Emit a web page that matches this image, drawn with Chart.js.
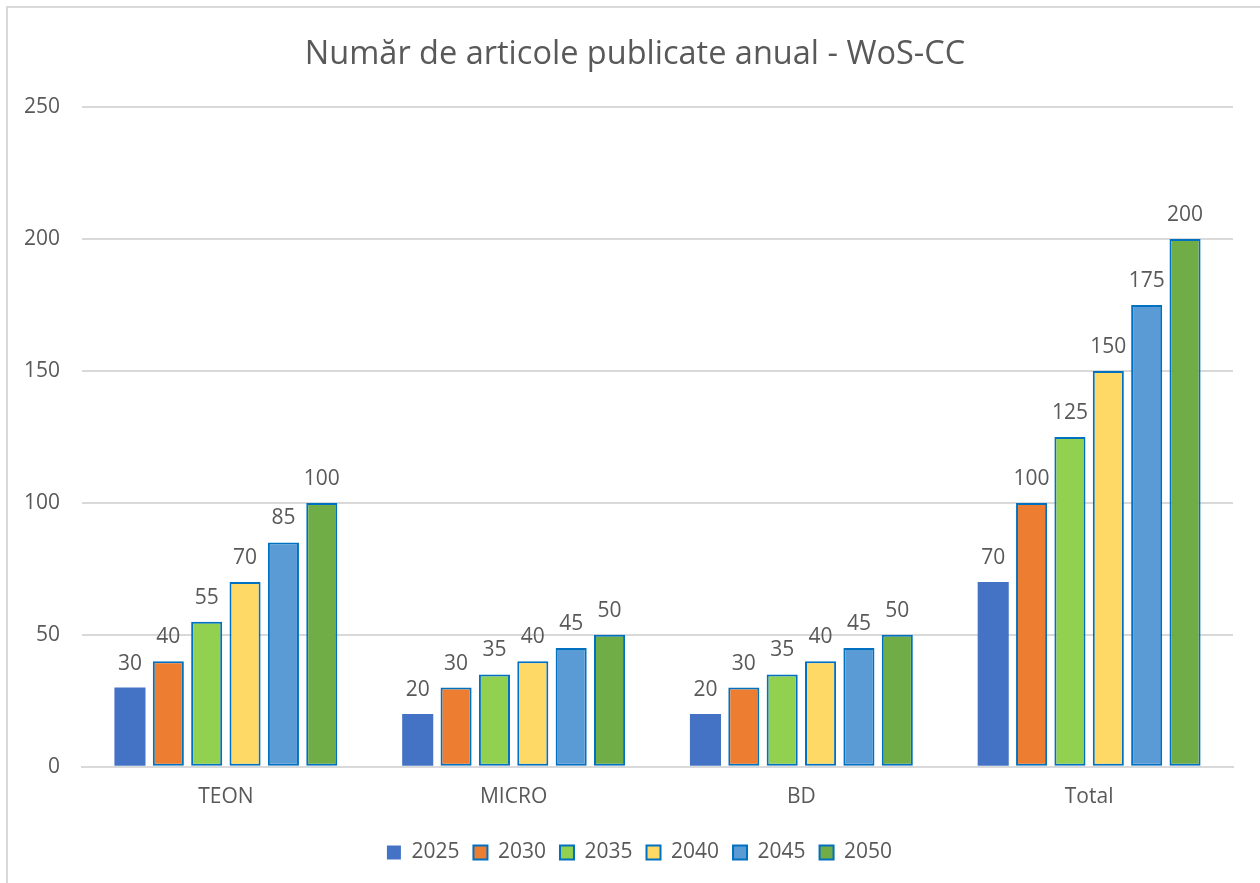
<!DOCTYPE html>
<html>
<head>
<meta charset="utf-8">
<script src="https://cdn.jsdelivr.net/npm/chart.js@4.4.1/dist/chart.umd.min.js"></script>
<style>
  html, body { margin: 0; padding: 0; background: #fff; overflow: hidden; }
  #wrap { width: 1260px; height: 883px; position: relative; }
</style>
</head>
<body>
<div id="wrap"><canvas id="chart" width="1260" height="883"></canvas></div>
<script>
// Chart data
const categories = ['TEON', 'MICRO', 'BD', 'Total'];
const years = ['2025', '2030', '2035', '2040', '2045', '2050'];
const values2025 = [30, 20, 20, 70];
const values2030 = [40, 30, 30, 100];
const values2035 = [55, 35, 35, 125];
const values2040 = [70, 40, 40, 150];
const values2045 = [85, 45, 45, 175];
const values2050 = [100, 50, 50, 200];
const yTicks = [0, 50, 100, 150, 200, 250];

const seriesValues = [values2025, values2030, values2035, values2040, values2045, values2050];
const fillColors = ['#4472C4', '#ED7D31', '#92D050', '#FFD966', '#5B9BD5', '#70AD47'];
const textColor = '#595959';
const fontFamily = '"Open Sans", "Segoe UI", sans-serif';

// Draw value labels above each bar
const valueLabels = {
    id: 'valueLabels',
    afterDatasetsDraw(chart) {
        const ctx = chart.ctx;
        ctx.save();
        ctx.fillStyle = textColor;
        ctx.font = '21px ' + fontFamily;
        ctx.textAlign = 'center';
        ctx.textBaseline = 'alphabetic';
        chart.data.datasets.forEach((ds, i) => {
            chart.getDatasetMeta(i).data.forEach((bar, j) => {
                ctx.fillText(ds.data[j], bar.x, bar.y - 18);
            });
        });
        ctx.restore();
    }
};

// White background and the outer frame
const frame = {
    id: 'frame',
    beforeDraw(chart) {
        const ctx = chart.ctx;
        ctx.save();
        ctx.fillStyle = '#fff';
        ctx.fillRect(0, 0, chart.width, chart.height);
        ctx.strokeStyle = '#d9d9d9';
        ctx.lineWidth = 2;
        ctx.beginPath();
        ctx.moveTo(7, chart.height);
        ctx.lineTo(7, 7);
        ctx.lineTo(chart.width, 7);
        ctx.stroke();
        ctx.restore();
    }
};

// The original title and legend sit a bit right of the canvas centre
const blockShift = {
    id: 'blockShift',
    afterLayout(chart) {
        chart.legend.left += 46;
        chart.titleBlock.left += 37;
    }
};

new Chart(document.getElementById('chart').getContext('2d'), {
    type: 'bar',
    data: {
        labels: categories,
        datasets: years.map((year, i) => ({
            label: year,
            data: seriesValues[i],
            backgroundColor: fillColors[i],
            borderColor: i === 0 ? fillColors[i] : '#0070C0',
            borderWidth: i === 0 ? 0 : 2,
            borderSkipped: false,
            categoryPercentage: 0.8,
            barPercentage: 0.81
        }))
    },
    options: {
        responsive: false,
        animation: false,
        layout: {
            padding: { left: 0, right: 27, top: 0, bottom: 10 }
        },
        plugins: {
            title: {
                display: true,
                text: 'Număr de articole publicate anual - WoS-CC',
                color: textColor,
                font: { family: fontFamily, size: 32.5, weight: 'normal' },
                padding: { top: 35, bottom: 33 }
            },
            legend: {
                position: 'bottom',
                labels: {
                    color: textColor,
                    font: { family: fontFamily, size: 21 },
                    boxWidth: 14,
                    boxHeight: 14,
                    padding: 14
                }
            },
            tooltip: { enabled: false }
        },
        scales: {
            x: {
                grid: { display: false, drawTicks: false },
                border: { color: '#d9d9d9', width: 2 },
                ticks: {
                    color: textColor,
                    font: { family: fontFamily, size: 21 },
                    padding: 18
                }
            },
            y: {
                min: 0,
                max: 250,
                afterBuildTicks(scale) {
                    scale.ticks = yTicks.map(v => ({ value: v }));
                },
                afterFit(scale) {
                    scale.width = 82;
                },
                grid: { color: '#d9d9d9', lineWidth: 2, drawTicks: false },
                border: { display: false },
                ticks: {
                    color: textColor,
                    font: { family: fontFamily, size: 21 },
                    padding: 22
                }
            }
        }
    },
    plugins: [frame, blockShift, valueLabels]
});
</script>
</body>
</html>
